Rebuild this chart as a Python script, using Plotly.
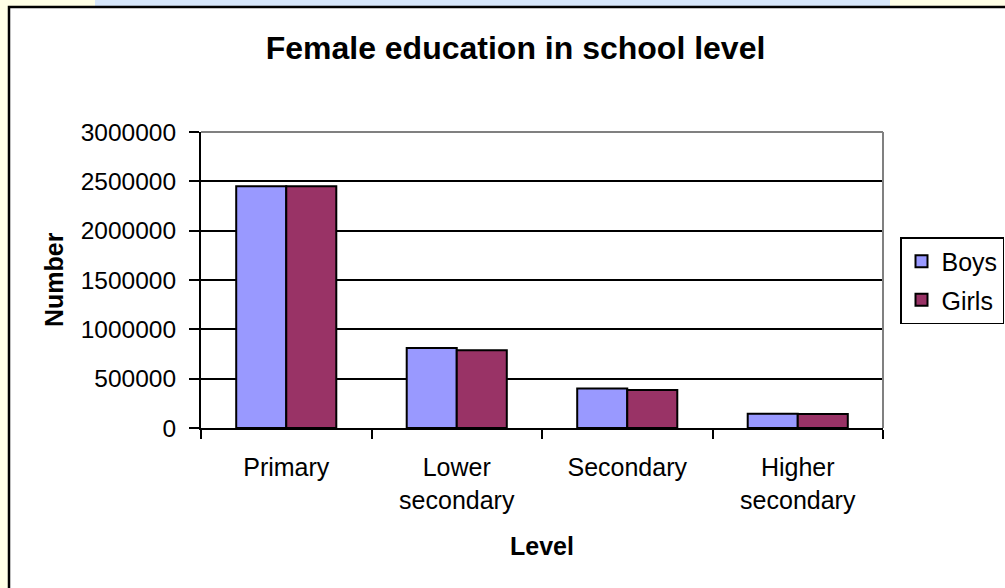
import plotly.graph_objects as go

# Pupils enrolled by school level
levels = ["Primary", "Lower<br>secondary", "Secondary", "Higher<br>secondary"]
boys = [2450000, 810000, 400000, 145000]
girls = [2450000, 788000, 385000, 142000]
y_ticks = [0, 500000, 1000000, 1500000, 2000000, 2500000, 3000000]

FONT = "Liberation Sans, Arial, sans-serif"
W, H = 1005, 588
L, R, T, B = 201, 122, 132, 160
PW, PH = W - L - R, H - T - B


def px_x(px):
    return (px - L) / PW


def px_y(py):
    return (H - B - py) / PH


fig = go.Figure()
fig.add_trace(go.Bar(name="Boys", x=levels, y=boys, legendgroup="b",
                     marker=dict(color="#9999FF", line=dict(color="black", width=2))))
fig.add_trace(go.Bar(name="Girls", x=levels, y=girls, legendgroup="g",
                     marker=dict(color="#993366", line=dict(color="black", width=2))))

shapes = [
    # slide strip behind the chart
    dict(type="rect", xref="paper", yref="paper", layer="below",
         x0=px_x(95), x1=px_x(890), y0=px_y(7), y1=px_y(-5),
         fillcolor="#D6E6FA", line=dict(width=0)),
    # chart area with its frame
    dict(type="rect", xref="paper", yref="paper", layer="below",
         x0=px_x(9), x1=px_x(1015), y0=px_y(600), y1=px_y(7),
         fillcolor="white", line=dict(color="black", width=2.5)),
    # plot-area frame, top and right edges
    dict(type="line", xref="paper", yref="paper", layer="above",
         x0=0, x1=1, y0=1, y1=1, line=dict(color="#808080", width=2)),
    dict(type="line", xref="paper", yref="paper", layer="above",
         x0=1, x1=1, y0=0, y1=1, line=dict(color="#808080", width=2)),
]

annotations = [
    dict(text="<b>Number</b>", xref="paper", yref="paper", x=px_x(54), y=0.5,
         textangle=-90, showarrow=False, xanchor="center", yanchor="middle",
         font=dict(family=FONT, size=25, color="black")),
    dict(text="<b>Level</b>", xref="paper", yref="paper", x=0.5, y=px_y(546),
         showarrow=False, xanchor="center", yanchor="middle",
         font=dict(family=FONT, size=25, color="black")),
]

fig.update_layout(
    width=W, height=H,
    margin=dict(l=L, r=R, t=T, b=B, pad=0, autoexpand=False),
    paper_bgcolor="#FFFFE6",
    plot_bgcolor="rgba(0,0,0,0)",
    font=dict(family=FONT, size=25, color="black"),
    title=dict(text="<b>Female education in school level</b>",
               x=515.5 / W, xanchor="center", y=1 - 48 / H, yanchor="middle",
               font=dict(family=FONT, size=32, color="black")),
    barmode="group", bargap=0.413, bargroupgap=0,
    showlegend=True,
    legend=dict(x=px_x(900), xanchor="left", y=px_y(237), yanchor="top",
                bgcolor="white", bordercolor="black", borderwidth=1.5,
                font=dict(family=FONT, size=25, color="black"),
                traceorder="grouped", tracegroupgap=3),
    shapes=shapes,
    annotations=annotations,
    xaxis=dict(showline=True, linecolor="black", linewidth=2,
               ticks="outside", tickson="boundaries", ticklen=9, tickwidth=2,
               tickcolor="black", showgrid=False, tickfont=dict(size=25),
               ticklabelstandoff=16),
    yaxis=dict(range=[0, 3000000], tickvals=y_ticks,
               ticktext=[str(v) for v in y_ticks],
               showline=True, linecolor="black", linewidth=2,
               ticks="outside", ticklen=10, tickwidth=2, tickcolor="black",
               showgrid=True, gridcolor="black", gridwidth=1.5,
               zeroline=False, tickfont=dict(size=24.5),
               ticklabelstandoff=8),
)

fig.write_html("out.html")
